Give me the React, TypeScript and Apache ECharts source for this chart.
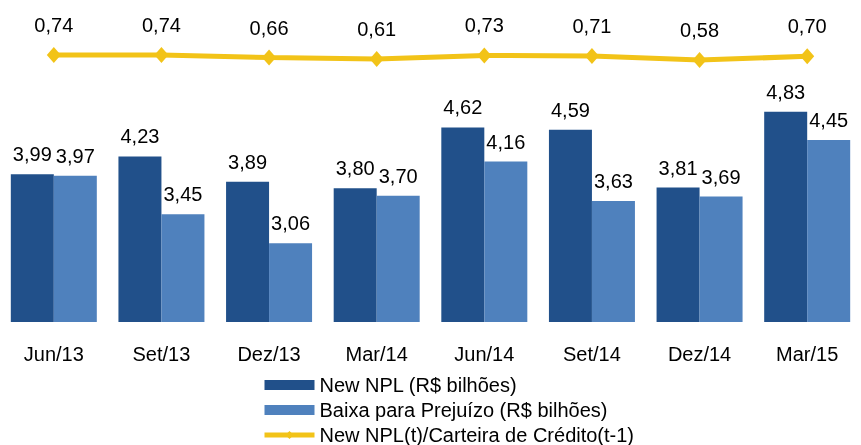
import React, { useEffect, useRef } from "react";
import * as echarts from "echarts";

const categories = ["Jun/13", "Set/13", "Dez/13", "Mar/14", "Jun/14", "Set/14", "Dez/14", "Mar/15"];
const newNpl = [3.99, 4.23, 3.89, 3.8, 4.62, 4.59, 3.81, 4.83];
const baixa = [3.97, 3.45, 3.06, 3.7, 4.16, 3.63, 3.69, 4.45];
const ratio = [0.74, 0.74, 0.66, 0.61, 0.73, 0.71, 0.58, 0.7];

const FONT = "'Liberation Sans', Arial, sans-serif";
const fmt = (p: any) => Number(p.value).toFixed(2).replace(".", ",");

export default function App() {
  const ref = useRef<HTMLDivElement>(null);
  useEffect(() => {
    const chart = echarts.init(ref.current!, null, { renderer: "svg" });
    chart.setOption({
      animation: false,
      textStyle: { fontFamily: FONT },
      grid: { left: -1, right: -3, top: 25, bottom: 123 },
      xAxis: {
        type: "category",
        data: categories,
        axisLine: { show: false },
        axisTick: { show: false },
        axisLabel: { color: "#000", fontSize: 20, fontFamily: FONT, margin: 22 },
      },
      yAxis: [
        { type: "value", min: 2, max: 6, show: false },
        { type: "value", min: -7.87, max: 1.71, show: false },
      ],
      legend: {
        orient: "vertical",
        left: 262,
        top: 375,
        width: 500,
        height: 120,
        padding: 0,
        itemWidth: 50,
        itemHeight: 10,
        itemGap: 5,
        textStyle: { fontSize: 20, color: "#000", fontFamily: FONT, lineHeight: 20 },
        data: [
          { name: "New NPL (R$ bilhões)", icon: "rect" },
          { name: "Baixa para Prejuízo (R$ bilhões)", icon: "rect" },
          { name: "New NPL(t)/Carteira de Crédito(t-1)", lineStyle: { width: 5, color: "#F2C318" } },
        ],
      },
      series: [
        {
          name: "New NPL (R$ bilhões)",
          type: "bar",
          data: newNpl,
          barWidth: 43,
          barGap: "0%",
          itemStyle: { color: "#21508A" },
          label: { show: true, position: "top", distance: 10, fontSize: 20, color: "#000", fontFamily: FONT, formatter: fmt },
        },
        {
          name: "Baixa para Prejuízo (R$ bilhões)",
          type: "bar",
          data: baixa,
          barWidth: 43,
          barGap: "0%",
          itemStyle: { color: "#4F81BD" },
          label: { show: true, position: "top", distance: 10, fontSize: 20, color: "#000", fontFamily: FONT, formatter: fmt },
        },
        {
          name: "New NPL(t)/Carteira de Crédito(t-1)",
          type: "line",
          yAxisIndex: 1,
          data: ratio,
          symbol: "diamond",
          symbolSize: [14, 16],
          lineStyle: { color: "#F2C318", width: 5 },
          itemStyle: { color: "#F2C318" },
          label: { show: true, position: "top", distance: 12, fontSize: 20, color: "#000", fontFamily: FONT, formatter: fmt },
        },
      ],
    });
    return () => chart.dispose();
  }, []);
  return <div ref={ref} style={{ position: "fixed", left: 0, top: 0, width: 861, height: 445 }} />;
}
